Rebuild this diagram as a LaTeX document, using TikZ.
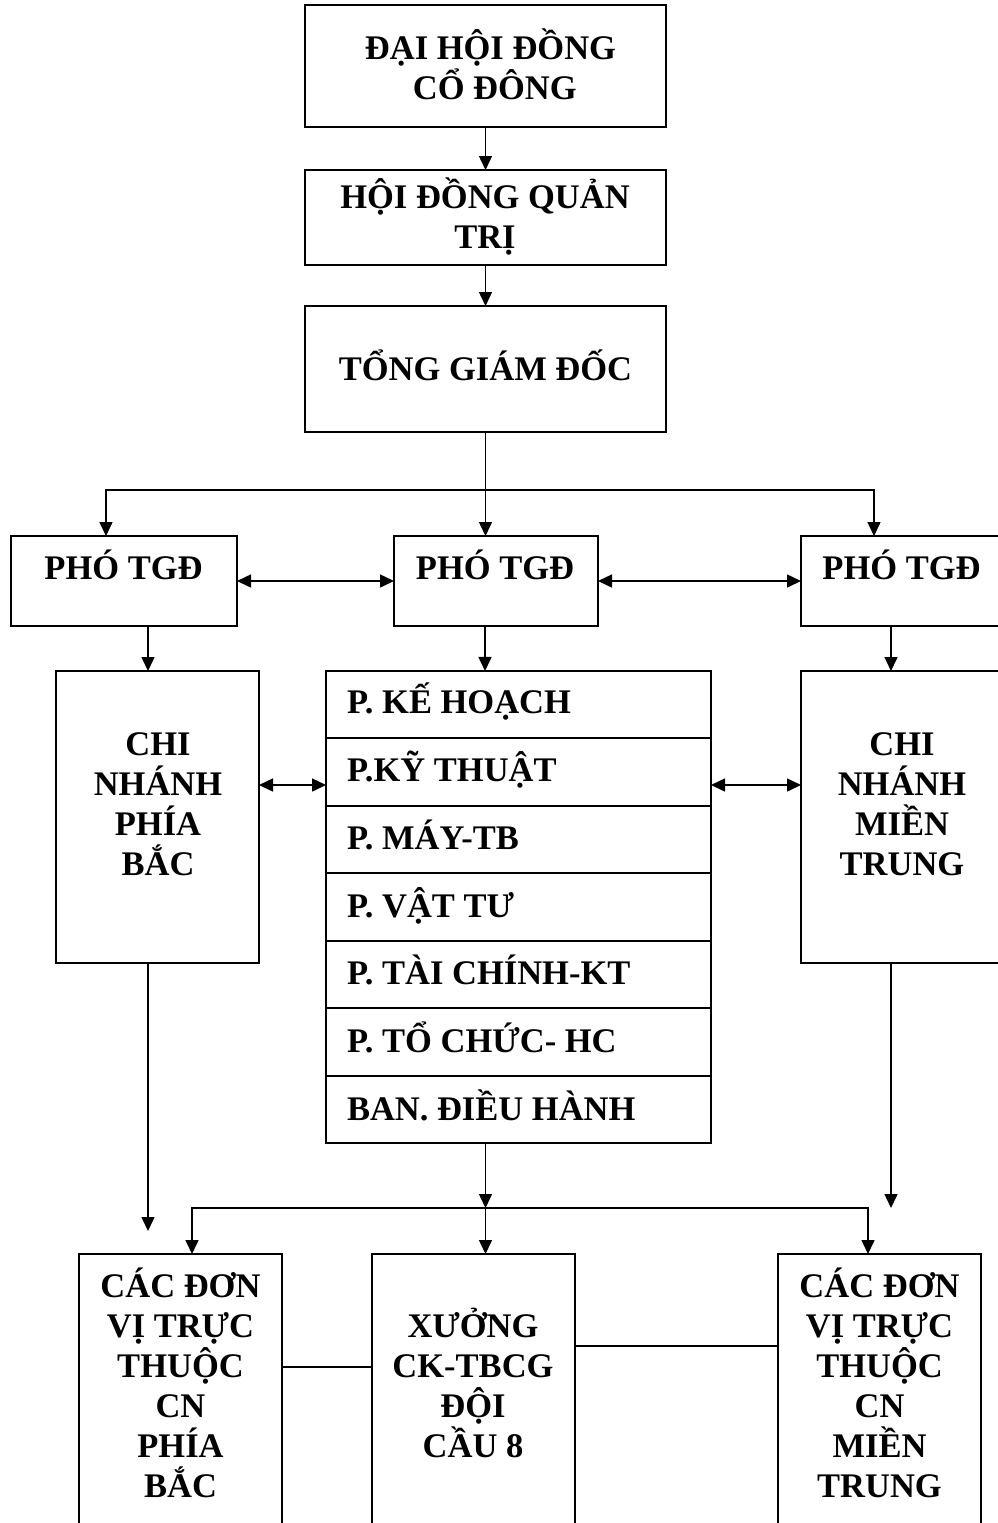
\documentclass[tikz,border=0pt]{standalone}
\usepackage{fontspec}
\setmainfont{Liberation Serif}
\usetikzlibrary{arrows.meta}
\newcommand\mlines[1]{\vtop{\lineskiplimit=-1000pt\lineskip=0pt\baselineskip=40pt\halign{\hfil##\hfil\cr#1\crcr}}}
\tikzset{
  box/.style={draw, line width=1.8pt, inner sep=0pt, outer sep=0pt, rectangle},
  txt/.style={inner sep=0pt, outer sep=0pt, font=\fontsize{34.5}{40}\selectfont\bfseries},
  conn/.style={line width=1.5pt},
  arr/.style={conn, -{Triangle[length=14pt,width=13pt]}},
  darr/.style={conn, {Triangle[length=14pt,width=13pt]}-{Triangle[length=14pt,width=13pt]}},
}
\begin{document}
\begin{tikzpicture}[x=1pt,y=-1pt]
\useasboundingbox (0,0) rectangle (998,1523);
\fill[white] (0,0) rectangle (998,1523);
\clip (0,0) rectangle (998,1523);

% top chain
\node[box, minimum width=361pt, minimum height=122pt] (b1) at (485.5,66) {};
\node[box, minimum width=361pt, minimum height=95pt] (b2) at (485.5,217.5) {};
\node[box, minimum width=361pt, minimum height=126pt] (b3) at (485.5,369) {};
\node[txt, anchor=base] (t1) at (490.5,59) {\mlines{ĐẠI HỘI ĐỒNG\cr\ CỔ ĐÔNG}};
\node[txt, anchor=base] (t2) at (485,208) {\mlines{HỘI ĐỒNG QUẢN\cr TRỊ}};
\node[txt, anchor=base] (t3) at (485.5,380) {TỔNG GIÁM ĐỐC};

% deputies
\node[box, minimum width=226pt, minimum height=90pt] (p1) at (124,581) {};
\node[box, minimum width=204pt, minimum height=90pt] (p2) at (496,581) {};
\node[box, minimum width=200pt, minimum height=90pt] (p3) at (901,581) {};
\node[txt, anchor=base] (tp1) at (123.5,579) {PHÓ TGĐ};
\node[txt, anchor=base] (tp2) at (495,579) {PHÓ TGĐ};
\node[txt, anchor=base] (tp3) at (901.5,579) {PHÓ TGĐ};

% branches
\node[box, minimum width=203pt, minimum height=292pt] (cn1) at (157.5,817) {};
\node[box, minimum width=200pt, minimum height=292pt] (cn2) at (901,817) {};
\node[txt, anchor=base] (tcn1) at (158,755) {\mlines{CHI\cr NHÁNH\cr PHÍA\cr BẮC}};
\node[txt, anchor=base] (tcn2) at (902,755) {\mlines{CHI\cr NHÁNH\cr MIỀN\cr TRUNG}};

% departments stack
\node[box, minimum width=385pt, minimum height=67.43pt] (r1) at (518.5,704.7) {};
\node[box, minimum width=385pt, minimum height=67.43pt] (r2) at (518.5,772.1) {};
\node[box, minimum width=385pt, minimum height=67.43pt] (r3) at (518.5,839.6) {};
\node[box, minimum width=385pt, minimum height=67.43pt] (r4) at (518.5,907.0) {};
\node[box, minimum width=385pt, minimum height=67.43pt] (r5) at (518.5,974.4) {};
\node[box, minimum width=385pt, minimum height=67.43pt] (r6) at (518.5,1041.9) {};
\node[box, minimum width=385pt, minimum height=67.43pt] (r7) at (518.5,1109.3) {};
\node[txt, anchor=base west] (tr1) at (347,713) {P. KẾ HOẠCH};
\node[txt, anchor=base west] (tr2) at (347,781) {P.KỸ THUẬT};
\node[txt, anchor=base west] (tr3) at (347,849) {P. MÁY-TB};
\node[txt, anchor=base west] (tr4) at (347,917) {P. VẬT TƯ};
\node[txt, anchor=base west] (tr5) at (347,984) {P. TÀI CHÍNH-KT};
\node[txt, anchor=base west] (tr6) at (347,1052) {P. TỔ CHỨC- HC};
\node[txt, anchor=base west] (tr7) at (347,1120) {BAN. ĐIỀU HÀNH};

% bottom units
\node[box, minimum width=203pt, minimum height=286pt] (d1) at (180.5,1397) {};
\node[box, minimum width=203pt, minimum height=286pt] (d2) at (473.5,1397) {};
\node[box, minimum width=203pt, minimum height=286pt] (d3) at (879.5,1397) {};
\node[txt, anchor=base] (td1) at (180.5,1297) {\mlines{CÁC ĐƠN\cr VỊ TRỰC\cr THUỘC\cr CN\cr PHÍA\cr BẮC}};
\node[txt, anchor=base] (td2) at (473,1337) {\mlines{XƯỞNG\cr CK-TBCG\cr ĐỘI\cr CẦU 8}};
\node[txt, anchor=base] (td3) at (879.5,1297) {\mlines{CÁC ĐƠN\cr VỊ TRỰC\cr THUỘC\cr CN\cr MIỀN\cr TRUNG}};

% coordinates
\coordinate (j1) at (485.5,490);
\coordinate (j2) at (485.5,1208);
\coordinate (e1) at (148,1231);
\coordinate (e2) at (891,1208);
\coordinate (l1) at (0,1367);
\coordinate (l2) at (0,1346);

% connectors
\draw[arr] (b1) -- (b2);
\draw[arr] (b2) -- (b3);
\draw[arr] (b3.south) -- (b3.south |- p2.north);
\draw[arr] (j1) -| ([xshift=-18pt]p1.north);
\draw[arr] (j1) -| ([xshift=-27pt]p3.north);
\draw[darr] (p1) -- (p2);
\draw[darr] (p2) -- (p3);
\draw[arr] ([xshift=24pt]p1.south) -- ([xshift=24pt]p1.south |- cn1.north);
\draw[arr] ([xshift=-11pt]p2.south) -- ([xshift=-11pt]p2.south |- r1.north);
\draw[arr] ([xshift=-10pt]p3.south) -- ([xshift=-10pt]p3.south |- cn2.north);
\draw[darr] ([yshift=32pt]cn1.east) -- ([yshift=32pt]cn1.east -| r2.west);
\draw[darr] ([yshift=32pt]cn2.west) -- ([yshift=32pt]cn2.west -| r2.east);
\draw[arr] (cn1.south -| e1) -- (e1);
\draw[arr] (cn2.south -| e2) -- (e2);
\draw[arr] (r7.south -| j2) -- (j2);
\draw[arr] (j2) -| ([xshift=11.5pt]d1.north);
\draw[arr] (j2) -| ([xshift=-11.5pt]d3.north);
\draw[arr] (j2) -- (j2 |- d2.north);
\draw[conn] (d1.east |- l1) -- (d2.west |- l1);
\draw[conn] (d2.east |- l2) -- (d3.west |- l2);
\end{tikzpicture}
\end{document}
